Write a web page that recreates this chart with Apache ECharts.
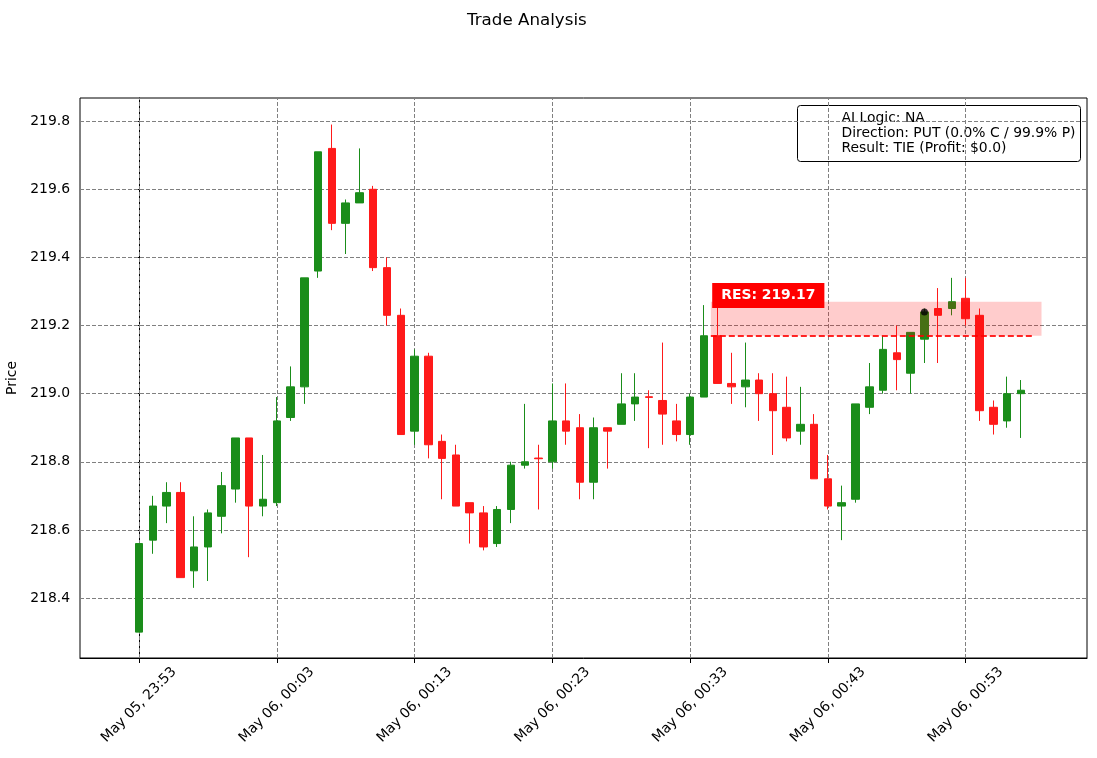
<!DOCTYPE html>
<html>
<head>
<meta charset="utf-8">
<title>Trade Analysis</title>
<script src="https://cdn.jsdelivr.net/npm/echarts@6/dist/echarts.min.js"></script>
<style>
	html, body { margin: 0; padding: 0; background: #fff; }
	#chart { width: 1097px; height: 758px; }
</style>
</head>
<body>
<div id="chart"></div>
<script>
// one candle per minute, May 05 23:53 .. May 06 00:57
var times = ['23:53','23:54','23:55','23:56','23:57','23:58','23:59','00:00','00:01','00:02',
	'00:03','00:04','00:05','00:06','00:07','00:08','00:09','00:10','00:11','00:12',
	'00:13','00:14','00:15','00:16','00:17','00:18','00:19','00:20','00:21','00:22',
	'00:23','00:24','00:25','00:26','00:27','00:28','00:29','00:30','00:31','00:32',
	'00:33','00:34','00:35','00:36','00:37','00:38','00:39','00:40','00:41','00:42',
	'00:43','00:44','00:45','00:46','00:47','00:48','00:49','00:50','00:51','00:52',
	'00:53','00:54','00:55','00:56','00:57'];
var opens = [218.30,218.57,218.67,218.71,218.48,218.55,218.64,218.72,218.87,218.67,
	218.68,218.93,219.02,219.36,219.72,219.50,219.56,219.60,219.37,219.23,
	218.89,219.11,218.86,218.82,218.68,218.65,218.56,218.66,218.79,218.811,
	218.80,218.92,218.90,218.74,218.90,218.91,218.97,218.991,218.98,218.92,
	218.88,218.99,219.17,219.03,219.02,219.04,219.00,218.96,218.89,218.91,
	218.75,218.67,218.69,218.96,219.01,219.12,219.06,219.16,219.25,219.25,
	219.28,219.23,218.96,218.92,219.00];
var closes = [218.56,218.67,218.71,218.46,218.55,218.65,218.73,218.87,218.67,218.69,
	218.92,219.02,219.34,219.71,219.50,219.56,219.59,219.37,219.23,218.88,
	219.11,218.85,218.81,218.67,218.65,218.55,218.66,218.79,218.80,218.809,
	218.92,218.89,218.74,218.90,218.89,218.97,218.99,218.989,218.94,218.88,
	218.99,219.17,219.03,219.02,219.04,219.00,218.95,218.87,218.91,218.75,
	218.67,218.68,218.97,219.02,219.13,219.10,219.18,219.24,219.23,219.27,
	219.22,218.95,218.91,219.00,219.01];
var lows = [218.30,218.53,218.62,218.46,218.43,218.45,218.59,218.68,218.52,218.64,
	218.67,218.92,218.97,219.34,219.48,219.41,219.56,219.36,219.20,218.88,
	218.85,218.81,218.69,218.67,218.56,218.54,218.55,218.62,218.78,218.66,
	218.78,218.85,218.69,218.69,218.78,218.91,218.92,218.84,218.85,218.86,
	218.85,218.99,219.03,218.97,218.96,218.92,218.82,218.86,218.85,218.75,
	218.66,218.57,218.68,218.94,219.00,219.01,219.00,219.09,219.09,219.23,
	219.20,218.92,218.88,218.90,218.87];
var highs = [218.56,218.70,218.74,218.74,218.64,218.66,218.77,218.87,218.87,218.82,
	218.99,219.08,219.34,219.71,219.79,219.57,219.72,219.61,219.40,219.25,
	219.13,219.12,218.88,218.85,218.68,218.67,218.67,218.80,218.97,218.85,
	219.03,219.03,218.94,218.93,218.90,219.06,219.06,219.01,219.15,218.97,
	219.00,219.26,219.26,219.12,219.15,219.06,219.06,219.05,219.02,218.94,
	218.82,218.73,218.97,219.09,219.17,219.20,219.18,219.25,219.31,219.34,
	219.34,219.25,218.98,219.05,219.04];

var xTickIdx = [0, 10, 20, 30, 40, 50, 60];
var xTickLabels = ['May 05, 23:53','May 06, 00:03','May 06, 00:13','May 06, 00:23',
	'May 06, 00:33','May 06, 00:43','May 06, 00:53'];
var yTicks = [218.4, 218.6, 218.8, 219.0, 219.2, 219.4, 219.6, 219.8];

// resistance zone and entry
var resLevel = 219.17;
var resTop = 219.27;
var resStart = 41.5, resEnd = 65.5, resLineEnd = 65;
var entryIdx = 57, entryPrice = 219.24;
var infoLines = ['AI Logic: NA', 'Direction: PUT (0.0% C / 99.9% P)', 'Result: TIE (Profit: $0.0)'];

var green = '#1a8d1a', red = '#ff1a1a';
var font = 'DejaVu Sans';

var candles = times.map(function(t, i) {
	return [i, opens[i], closes[i], lows[i], highs[i]];
});

var gridLines = [];
xTickIdx.forEach(function(v) { gridLines.push({ xAxis: v }); });
yTicks.forEach(function(v) { gridLines.push({ yAxis: v }); });

var chart = echarts.init(document.getElementById('chart'));

var option = {
	animation: false,
	backgroundColor: '#fff',
	title: {
		text: 'Trade Analysis',
		left: 462,
		top: 7,
		textStyle: { fontFamily: font, fontSize: 16.7, fontWeight: 'normal', color: '#000' }
	},
	grid: {
		left: 80, right: 10, top: 98, bottom: 100,
		outerBoundsMode: 'none',
		show: true, borderColor: '#000', borderWidth: 1, backgroundColor: 'transparent'
	},
	xAxis: {
		type: 'value',
		min: -4.28,
		max: 68.8,
		splitLine: { show: false },
		axisLine: { show: true, lineStyle: { color: '#000', width: 1 } },
		axisTick: { show: true, length: 5, customValues: xTickIdx, lineStyle: { color: '#000' } },
		axisLabel: {
			customValues: xTickIdx,
			rotate: 45,
			align: 'center',
			verticalAlign: 'middle',
			margin: 47,
			fontFamily: font,
			fontSize: 13.9,
			color: '#000',
			formatter: function(v) {
				var k = xTickIdx.indexOf(Math.round(v));
				return k >= 0 ? xTickLabels[k] : '';
			}
		}
	},
	yAxis: {
		type: 'value',
		scale: true,
		min: 218.224,
		max: 219.868,
		name: 'Price',
		nameLocation: 'middle',
		nameGap: 55,
		nameTextStyle: { fontFamily: font, fontSize: 13.9, color: '#000' },
		splitLine: { show: false },
		axisLine: { show: true, lineStyle: { color: '#000', width: 1 } },
		axisTick: { show: true, length: 5, customValues: yTicks, lineStyle: { color: '#000' } },
		axisLabel: {
			customValues: yTicks,
			margin: 10,
			fontFamily: font,
			fontSize: 13.9,
			color: '#000',
			formatter: function(v) { return v.toFixed(1); }
		}
	},
	series: [
		{
			// dashed grid, kept under the candles
			type: 'line',
			data: [],
			z: 1,
			silent: true,
			markLine: {
				z: 1,
				silent: true,
				symbol: ['none', 'none'],
				label: { show: false },
				lineStyle: { color: '#808080', width: 1, type: [4, 2] },
				data: gridLines
			}
		},
		{
			type: 'candlestick',
			z: 3,
			barWidth: 8,
			dimensions: ['idx', 'open', 'close', 'lowest', 'highest'],
			encode: { x: 'idx', y: ['open', 'close', 'lowest', 'highest'] },
			data: candles,
			itemStyle: {
				color: green, color0: red,
				borderColor: green, borderColor0: red,
				borderWidth: 1
			}
		},
		{
			// resistance zone, drawn above the candles
			type: 'line',
			data: [],
			z: 5,
			silent: true,
			markArea: {
				z: 5,
				silent: true,
				itemStyle: { color: 'rgba(255,0,0,0.2)' },
				data: [[{ coord: [resStart, resLevel] }, { coord: [resEnd, resTop] }]]
			},
			markLine: {
				z: 6,
				silent: true,
				symbol: ['none', 'none'],
				label: { show: false },
				lineStyle: { color: 'rgba(255,0,0,0.85)', width: 2, type: [6, 3] },
				data: [[{ coord: [resStart, resLevel] }, { coord: [resLineEnd, resLevel] }]]
			},
			markPoint: {
				z: 7,
				silent: true,
				symbol: 'rect',
				symbolSize: 0,
				data: [{ coord: [resStart + 0.1, 219.288] }],
				label: {
					show: true,
					position: 'right',
					distance: 0,
					formatter: 'RES: ' + resLevel.toFixed(2),
					backgroundColor: '#ff0000',
					color: '#fff',
					fontFamily: font,
					fontWeight: 'bold',
					fontSize: 13.9,
					padding: [6, 9, 5, 9]
				}
			}
		},
		{
			type: 'scatter',
			z: 8,
			symbol: 'circle',
			symbolSize: 7,
			itemStyle: { color: '#000' },
			data: [[entryIdx, entryPrice]]
		}
	],
	graphic: [
		{
			type: 'group',
			left: 797,
			top: 105,
			children: [
				{
					type: 'rect',
					shape: { x: 0, y: 0, width: 283, height: 56, r: 3 },
					style: { fill: '#fff', stroke: '#000', lineWidth: 1 }
				},
				{
					type: 'text',
					x: 44,
					y: 5,
					style: {
						text: infoLines.join('\n'),
						fontFamily: font,
						fontSize: 13.9,
						lineHeight: 15,
						fill: '#000'
					}
				}
			]
		}
	]
};

chart.setOption(option);
</script>
</body>
</html>
